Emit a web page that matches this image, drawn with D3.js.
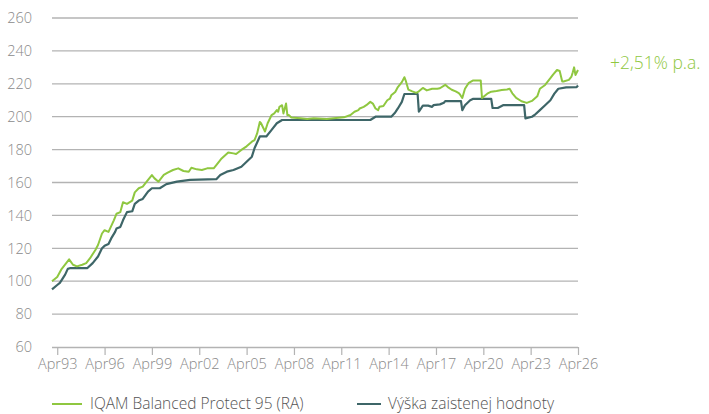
<!DOCTYPE html>
<html><head><meta charset="utf-8">
<script src="https://cdn.jsdelivr.net/npm/d3@7"></script>
<style>
html,body{margin:0;padding:0;background:#fff;}
svg{display:block;font-family:"Open Sans",sans-serif;}
</style></head>
<body><svg id="c" width="709" height="414"></svg>
<script>
const fundName = "IQAM Balanced Protect 95 (RA)";
const floorName = "Výška zaistenej hodnoty";
const annualReturn = "+2,51% p.a.";
const yTicks = [60,80,100,120,140,160,180,200,220,240,260];
const xTickYears = [1993,1996,1999,2002,2005,2008,2011,2014,2017,2020,2023,2026];

const fundDates = ["1992-12","1993-04","1993-07","1994-01","1994-04","1994-07","1994-11","1995-02","1995-05","1995-09","1995-11","1996-02","1996-04","1996-07","1996-11","1997-01","1997-04","1997-06","1997-09","1998-01","1998-03","1998-06","1998-09","1998-12","1999-04","1999-06","1999-09","2000-01","2000-04","2000-08","2000-12","2001-04","2001-08","2001-10","2002-02","2002-06","2002-10","2003-03","2003-05","2003-09","2004-02","2004-06","2004-08","2004-12","2005-04","2005-08","2005-10","2005-12","2006-02","2006-03","2006-06","2006-08","2006-11","2007-01","2007-03","2007-04","2007-05","2007-07","2007-08","2007-09","2007-10","2007-11","2007-12","2008-02","2008-09","2009-02","2009-07","2010-05","2010-10","2011-06","2011-11","2012-02","2012-05","2012-06","2012-09","2012-11","2013-02","2013-04","2013-06","2013-08","2013-09","2013-12","2014-03","2014-05","2014-06","2014-09","2014-11","2015-02","2015-04","2015-05","2015-07","2015-10","2016-01","2016-03","2016-06","2016-09","2017-01","2017-05","2017-07","2017-11","2018-01","2018-04","2018-07","2018-09","2018-10","2018-12","2019-02","2019-05","2019-08","2019-12","2020-02","2020-03","2020-07","2020-10","2021-02","2021-06","2021-10","2021-12","2022-02","2022-05","2022-09","2023-01","2023-05","2023-09","2023-11","2024-03","2024-07","2024-09","2024-12","2025-02","2025-04","2025-05","2025-09","2025-11","2025-12","2026-01","2026-02","2026-04"];
const fundValues = [100,102.5,107,113.3,110,109,110,111,114,119,122,129,131,130,137,141,142,148,147,149,154,156.5,157.5,160.5,164.5,162.5,160.5,164.6,166,167.6,168.6,167,166.5,169,168,167.6,168.6,168.6,170.6,174.6,178.3,177.7,177.3,179.8,182,184.8,185.8,189.8,196.8,196,191,196,201,202,204,203,206,207,202,205,208,201,201,199.5,199,198.6,199,198.6,199,199.6,201,203,204,205,206,207,209,208,205,204,206,206.5,210,211,213,215,218,221,224,222,216.5,215.4,214.5,215.4,217.5,216,217,217,217.3,219.4,218,216.4,215.4,214.5,213.8,211.4,217,220.6,222,222,222,211.4,214,215.2,215.6,216.2,216.5,217,214.2,211.4,209.4,208.4,209.6,212.4,217,219.3,223.4,225.6,228.4,227.8,221.4,221.4,222.4,224.4,227,230,225.4,228.4];

const floorDates = ["1992-12","1993-04","1993-06","1993-10","1993-12","1994-02","1995-03","1995-07","1995-11","1996-02","1996-04","1996-07","1996-09","1996-12","1997-01","1997-04","1997-06","1997-09","1998-01","1998-03","1998-06","1998-09","1999-01","1999-04","1999-10","2000-03","2000-11","2001-09","2003-05","2003-08","2004-01","2004-06","2004-12","2005-04","2005-08","2005-10","2006-02","2006-07","2006-11","2007-03","2007-07","2013-02","2013-06","2014-06","2014-09","2014-11","2015-02","2015-04","2016-02","2016-03","2016-06","2016-10","2017-01","2017-02","2017-07","2017-10","2017-11","2018-11","2018-12","2019-02","2019-06","2019-08","2020-10","2020-11","2021-03","2021-07","2022-11","2022-12","2023-05","2023-07","2023-11","2024-03","2024-07","2024-10","2025-01","2025-07","2026-03","2026-04"];
const floorValues = [95,97.7,99,104,107.5,108,108,111,115,120,121.5,122.6,126,130,132,133,137,142,142.5,147,149,150,154.5,156.5,156.5,159,160.5,161.6,162,164.6,166.6,167.6,169.6,172.6,175.7,180.8,188,188,192,196,198,198,200,200,202.6,205,209,213.8,213.8,203,206.7,206.7,206,207,207.5,208.5,209.5,209.5,204,207,210,210.8,210.8,205.3,205.3,207,207,199,200,201,204,207,210,214,217,217.8,218,219];

const parse = d3.timeParse("%Y-%m");
const fund = fundDates.map((d,i)=>({date:parse(d), v:fundValues[i]}));
const floor = floorDates.map((d,i)=>({date:parse(d), v:floorValues[i]}));

const svg = d3.select("#c");
const x = d3.scaleTime().domain([parse("1992-12"), parse("2026-04")]).range([52,578]);
const y = d3.scaleLinear().domain([60,260]).range([347,18]);

const gridCol = "#b3b3b3";
svg.append("g").selectAll("line").data(yTicks.filter(t=>t>60)).join("line")
  .attr("x1",52).attr("x2",578).attr("y1",d=>y(d)).attr("y2",d=>y(d))
  .attr("stroke",gridCol).attr("stroke-width",1.3);

svg.append("g").selectAll("text").data(yTicks).join("text")
  .attr("x",32).attr("y",d=>y(d)).attr("dy","0.36em").attr("text-anchor","end")
  .attr("fill","#8a8a8a").attr("font-size",14.5).attr("font-weight",300).text(d=>d);

const xAxis = d3.axisBottom(x)
  .tickValues(xTickYears.map(yr=>new Date(yr,3,1)))
  .tickFormat(d=>"Apr"+d3.timeFormat("%y")(d))
  .tickSize(8).tickSizeOuter(0).tickPadding(4);
const gx = svg.append("g").attr("transform","translate(0,347)").call(xAxis);
gx.select(".domain").attr("stroke",gridCol).attr("stroke-width",1.3).attr("d","M52,0.5H578");
gx.selectAll(".tick line").attr("stroke",gridCol).attr("stroke-width",1.2);
gx.selectAll(".tick text").attr("fill","#8a8a8a").attr("font-size",14.5).attr("font-weight",300)
  .attr("font-family","'Open Sans',sans-serif");

const green = "#8fc740", dark = "#3e6668";
const line = d3.line().x(d=>x(d.date)).y(d=>y(d.v));
svg.append("path").datum(floor).attr("d",line).attr("fill","none")
  .attr("stroke",dark).attr("stroke-width",2.2).attr("stroke-linejoin","round");
svg.append("path").datum(fund).attr("d",line).attr("fill","none")
  .attr("stroke",green).attr("stroke-width",2).attr("stroke-linejoin","round");

svg.append("text").attr("x",610).attr("y",69).attr("fill",green)
  .attr("font-size",17.5).attr("font-weight",300).text(annualReturn);

const legend = [{name:fundName,c:green,x:52,len:30,tx:38},{name:floorName,c:dark,x:357,len:24,tx:31}];
const lg = svg.append("g").selectAll("g").data(legend).join("g")
  .attr("transform",d=>`translate(${d.x},404)`);
lg.append("line").attr("x1",0).attr("x2",d=>d.len).attr("stroke",d=>d.c).attr("stroke-width",2);
lg.append("text").attr("x",d=>d.tx).attr("y",0).attr("dy","0.34em")
  .attr("fill","#555").attr("font-size",15.5).attr("font-weight",300).text(d=>d.name);
</script></body></html>
